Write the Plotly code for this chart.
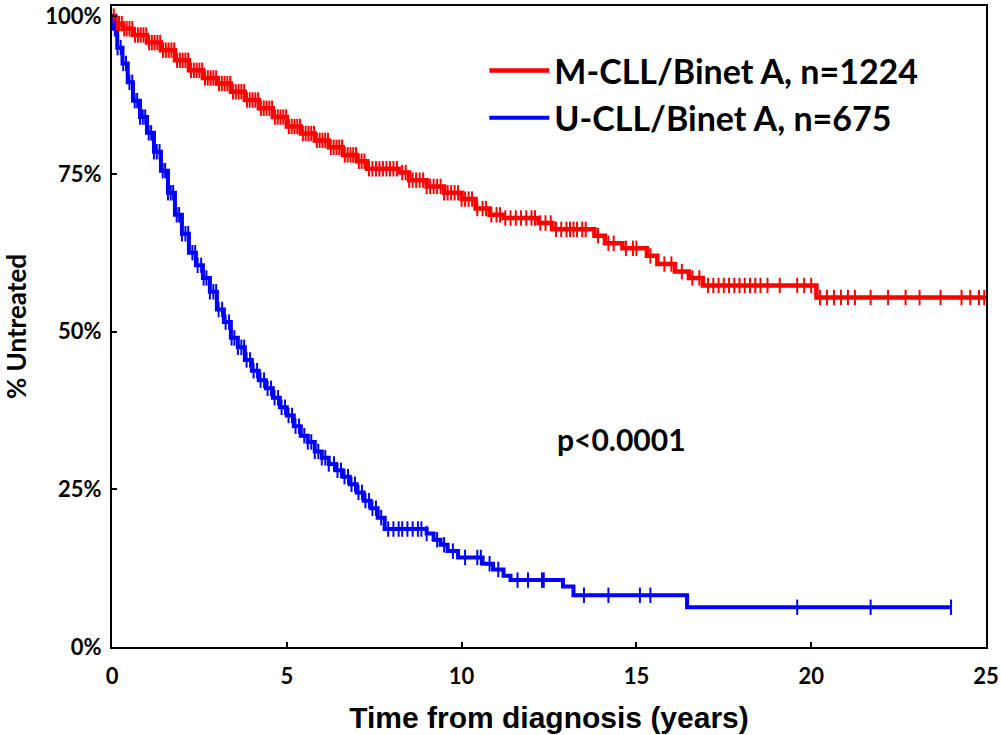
import numpy as np
import plotly.graph_objects as go

# ---- data ----
m_time = [0, 0.1, 0.3, 0.6, 1.0, 1.4, 1.8, 2.2, 2.6, 3.0, 3.4, 3.8, 4.2, 4.6, 5.0, 5.4, 5.8,
          6.2, 6.6, 7.0, 7.3, 8.2, 8.5, 9.0, 9.5, 10.0, 10.4, 10.8, 11.2, 12.2, 12.6, 13.8,
          14.1, 14.6, 15.3, 15.6, 16.1, 16.5, 16.9, 20.15, 25.0]
m_surv = [100, 98.8, 98.0, 97.0, 95.8, 94.6, 93.0, 91.4, 90.2, 89.3, 88.0, 86.7, 85.4, 84.0,
          82.5, 81.4, 80.3, 79.2, 78.0, 77.0, 75.8, 75.2, 74.0, 73.0, 72.0, 71.0, 69.5, 68.5,
          68.0, 67.2, 66.2, 65.2, 64.0, 63.2, 62.0, 60.7, 59.5, 58.5, 57.3, 55.4, 55.4]
m_censor = [0.05, 0.12, 0.2, 0.28, 0.35, 0.42, 0.5, 0.58, 0.66, 0.74, 0.82, 0.9, 0.98, 1.06,
            1.14, 1.22, 1.3, 1.38, 1.46, 1.54, 1.62, 1.7, 1.78, 1.86, 1.94, 2.02, 2.1, 2.18,
            2.26, 2.34, 2.42, 2.5, 2.58, 2.66, 2.74, 2.82, 2.9, 2.98, 3.06, 3.14, 3.22, 3.3,
            3.38, 3.46, 3.54, 3.62, 3.7, 3.78, 3.86, 3.94, 4.02, 4.1, 4.18, 4.26, 4.34, 4.42,
            4.5, 4.58, 4.66, 4.74, 4.82, 4.9, 4.98, 5.06, 5.14, 5.22, 5.3, 5.38, 5.46, 5.54,
            5.62, 5.7, 5.78, 5.86, 5.94, 6.02, 6.1, 6.18, 6.26, 6.34, 6.42, 6.5, 6.58, 6.66,
            6.74, 6.82, 6.9, 6.98, 7.06, 7.14, 7.22, 7.35, 7.45, 7.55, 7.65, 7.75, 7.85, 7.95,
            8.05, 8.15, 8.3, 8.4, 8.5, 8.6, 8.7, 8.8, 8.9, 9.0, 9.1, 9.2, 9.3, 9.4, 9.5, 9.6,
            9.7, 9.8, 9.9, 10.0, 10.1, 10.2, 10.3, 10.45, 10.6, 10.7, 10.85, 11.0, 11.1, 11.25,
            11.4, 11.55, 11.7, 11.85, 12.0, 12.1, 12.25, 12.4, 12.55, 12.7, 12.85, 13.0, 13.1,
            13.2, 13.3, 13.45, 13.55, 13.9, 14.2, 14.35, 14.7, 14.9, 15.0, 15.4, 15.8, 16.0,
            16.3, 16.6, 16.8, 17.05, 17.2, 17.35, 17.5, 17.65, 17.8, 17.95, 18.1, 18.25, 18.4,
            18.55, 18.75, 19.1, 19.6, 19.8, 20.0, 20.25, 20.45, 20.65, 20.85, 21.05, 21.25,
            21.7, 22.2, 22.7, 23.1, 23.7, 24.3, 24.55, 24.8, 24.95]

u_time = [0, 0.05, 0.15, 0.3, 0.45, 0.6, 0.8, 1.0, 1.2, 1.4, 1.6, 1.8, 2.0, 2.2, 2.4, 2.6,
          2.8, 3.0, 3.2, 3.4, 3.6, 3.8, 4.0, 4.2, 4.4, 4.6, 4.8, 5.0, 5.2, 5.4, 5.6, 5.8, 6.0,
          6.2, 6.4, 6.6, 6.8, 7.0, 7.2, 7.4, 7.6, 7.8, 9.0, 9.2, 9.4, 9.6, 9.9, 10.6, 10.9,
          11.2, 11.4, 12.9, 13.2, 16.45, 24.0]
u_surv = [100, 98.0, 95.0, 92.5, 89.5, 86.6, 84.0, 81.5, 78.5, 75.5, 72.0, 68.5, 65.5, 62.5,
          60.5, 58.5, 56.3, 53.5, 51.5, 49.0, 47.5, 45.5, 43.8, 42.3, 41.0, 39.5, 38.0, 36.7,
          35.0, 33.5, 32.5, 31.0, 30.0, 29.0, 28.0, 27.0, 25.8, 24.5, 23.2, 22.0, 20.5, 18.7,
          18.0, 17.0, 16.2, 15.2, 14.2, 13.2, 12.3, 11.3, 10.6, 9.6, 8.2, 6.3, 6.3]
u_censor = [0.08, 0.16, 0.25, 0.32, 0.4, 0.5, 0.58, 0.65, 0.72, 0.8, 0.88, 0.95, 1.05, 1.12,
            1.2, 1.28, 1.36, 1.45, 1.52, 1.6, 1.68, 1.75, 1.85, 1.92, 2.0, 2.1, 2.18, 2.3, 2.38,
            2.45, 2.55, 2.62, 2.7, 2.8, 2.9, 2.98, 3.05, 3.15, 3.25, 3.35, 3.42, 3.5, 3.6, 3.7,
            3.78, 3.85, 3.95, 4.05, 4.15, 4.25, 4.35, 4.45, 4.55, 4.65, 4.75, 4.85, 4.95, 5.05,
            5.15, 5.25, 5.35, 5.5, 5.6, 5.7, 5.8, 5.9, 6.0, 6.1, 6.2, 6.35, 6.45, 6.55, 6.65,
            6.75, 6.85, 6.95, 7.05, 7.15, 7.25, 7.35, 7.45, 7.55, 7.7, 7.9, 8.05, 8.2, 8.3,
            8.45, 8.6, 8.75, 8.85, 9.0, 9.3, 9.5, 9.75, 10.1, 10.45, 10.55, 10.8, 11.05, 11.6,
            11.9, 12.3, 12.35, 13.5, 14.2, 15.1, 15.4, 19.6, 21.7, 24.0]

names = ["M-CLL/Binet A, n=1224", "U-CLL/Binet A, n=675"]
colors = ["#ff0000", "#0000ff"]
y_ticks = [0, 25, 50, 75, 100]
y_labels = ["0%", "25%", "50%", "75%", "100%"]
x_ticks = [0, 5, 10, 15, 20, 25]
x_labels = ["0", "5", "10", "15", "20", "25"]


def step_at(times, surv, t):
    times = np.asarray(times)
    surv = np.asarray(surv)
    idx = np.searchsorted(times, t, side="right") - 1
    return surv[np.clip(idx, 0, len(surv) - 1)]


fig = go.Figure()
groups = [(m_time, m_surv, m_censor), (u_time, u_surv, u_censor)]
for (t, s, c), name, col, w in zip(groups, names, colors, [4.5, 4]):
    fig.add_trace(go.Scatter(x=t, y=s, mode="lines", line=dict(color=col, width=w, shape="hv"),
                             name="<b>%s</b>" % name, showlegend=True))
for (t, s, c), name, col in zip(groups, names, colors):
    fig.add_trace(go.Scatter(x=c, y=step_at(t, s, c), mode="markers",
                             marker=dict(symbol="line-ns", size=11,
                                         line=dict(color=col, width=2)),
                             showlegend=False, hoverinfo="skip"))

fig.update_layout(
    width=1001, height=735,
    margin=dict(l=112, r=13, t=2, b=88),
    paper_bgcolor="white", plot_bgcolor="white",
    showlegend=True,
    legend=dict(x=0.426, y=0.944, xanchor="left", yanchor="top",
                font=dict(family="Lato", size=34, color="black"),
                bgcolor="rgba(0,0,0,0)", itemwidth=60, tracegroupgap=0),
    xaxis=dict(range=[0, 25], tickvals=x_ticks, ticktext=["<b>%s</b>" % v for v in x_labels],
               ticks="inside", ticklen=5, tickwidth=1.5, ticklabelstandoff=9,
               ticklabeloverflow="allow",
               tickcolor="black", showline=True, linecolor="black", linewidth=2, mirror=True,
               showgrid=False, zeroline=False,
               tickfont=dict(family="Lato", size=22, color="black"),
               title=dict(text="<b>Time from diagnosis (years)</b>", standoff=19,
                          font=dict(family="Liberation Sans", size=30, color="black"))),
    yaxis=dict(range=[0, 101.6], tickvals=y_ticks, ticktext=["<b>%s</b>" % v for v in y_labels],
               ticks="inside", ticklen=5, ticklabeloverflow="allow", ticklabelstandoff=4,
               tickwidth=1.5, tickcolor="black", showline=True, linecolor="black",
               linewidth=2, mirror=True, showgrid=False, zeroline=False,
               tickfont=dict(family="Lato", size=22, color="black"),
               title=dict(text="<b>% Untreated</b>", standoff=19,
                          font=dict(family="Lato", size=26, color="black"))),
    annotations=[dict(x=0.583, y=0.324, xref="paper", yref="paper", text="<b>p<0.0001</b>",
                      showarrow=False, xanchor="center", yanchor="middle",
                      font=dict(family="Lato", size=30, color="black"))],
)

fig.write_html("out.html")
